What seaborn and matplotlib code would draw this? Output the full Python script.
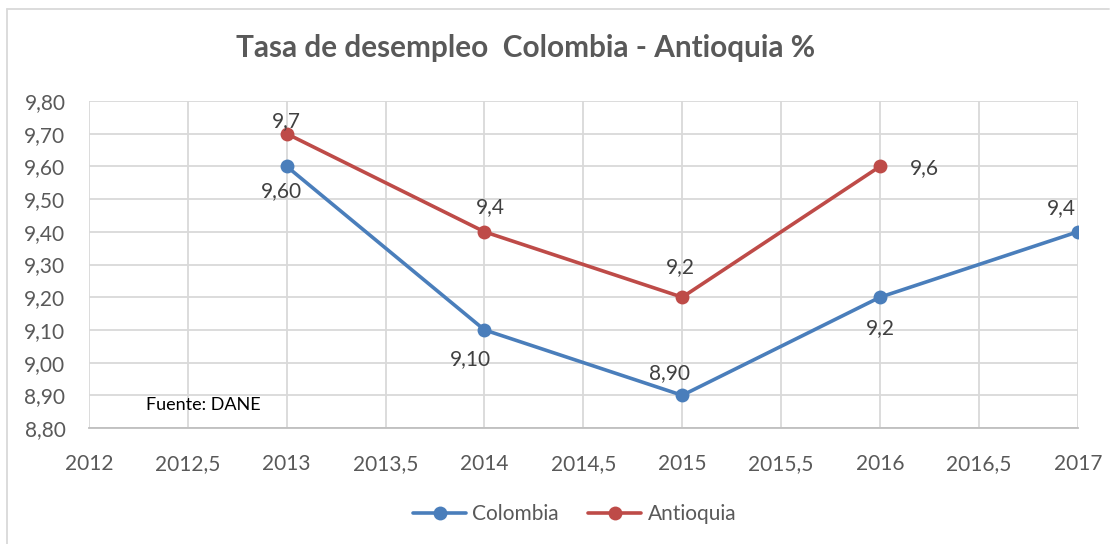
import numpy as np
import pandas as pd
import matplotlib
matplotlib.use("Agg")
import matplotlib.pyplot as plt
import seaborn as sns
from matplotlib.lines import Line2D

years_col = [2013, 2014, 2015, 2016, 2017]
colombia = [9.60, 9.10, 8.90, 9.20, 9.40]
colombia_lbl = ["9,60", "9,10", "8,90", "9,2", "9,4"]

years_ant = [2013, 2014, 2015, 2016]
antioquia = [9.7, 9.4, 9.2, 9.6]
antioquia_lbl = ["9,7", "9,4", "9,2", "9,6"]

x_ticks = [2012, 2012.5, 2013, 2013.5, 2014, 2014.5, 2015, 2015.5, 2016, 2016.5, 2017]
y_ticks = [8.8, 8.9, 9.0, 9.1, 9.2, 9.3, 9.4, 9.5, 9.6, 9.7, 9.8]

df = pd.concat([
    pd.DataFrame({"anio": years_col, "tasa": colombia, "serie": "Colombia"}),
    pd.DataFrame({"anio": years_ant, "tasa": antioquia, "serie": "Antioquia"}),
])

sns.set_style("white")
plt.rcParams["font.family"] = ["Lato", "DejaVu Sans"]

colors = {"Colombia": "#4a7ebb", "Antioquia": "#be4b48"}

fig = plt.figure(figsize=(11.18, 5.44), dpi=100)
ax = fig.add_axes([0.0796, 0.2132, 0.8844, 0.6011])

sns.lineplot(data=df, x="anio", y="tasa", hue="serie", palette=colors,
             marker="o", markersize=10, markeredgewidth=0, linewidth=2.6,
             ax=ax, legend=False)

ax.set_xlim(2012, 2017)
ax.set_ylim(8.8, 9.8)
ax.set_xticks(x_ticks)
ax.set_yticks(y_ticks)
ax.set_xticklabels([("%g" % v).replace(".", ",") for v in x_ticks])
ax.set_yticklabels([("%.2f" % v).replace(".", ",") for v in y_ticks])
ax.tick_params(axis="both", labelsize=15, colors="#595959", length=0)
ax.tick_params(axis="x", pad=19)
ax.tick_params(axis="y", pad=17)
ax.set_xlabel("")
ax.set_ylabel("")
ax.grid(True, color="#d9d9d9", linewidth=1.3)
for s in ["top", "right", "left"]:
    ax.spines[s].set_visible(False)
ax.spines["bottom"].set_color("#bfbfbf")
ax.spines["bottom"].set_linewidth(1.3)

# data labels (offsets in points)
off_col = [(-4, -18), (-10, -21), (-9, 16), (0, -22), (-12, 17)]
off_ant = [(0, 9), (4, 18), (-1, 22), (32, -1)]
for x, y, t, o in zip(years_col, colombia, colombia_lbl, off_col):
    ax.annotate(t, (x, y), xytext=o, textcoords="offset points",
                ha="center", va="center", fontsize=15, color="#404040")
for x, y, t, o in zip(years_ant, antioquia, antioquia_lbl, off_ant):
    ax.annotate(t, (x, y), xytext=o, textcoords="offset points",
                ha="center", va="center", fontsize=15, color="#404040")

ax.text(0.058, 0.055, "Fuente: DANE", transform=ax.transAxes,
        fontsize=13, color="#000000")

fig.text(0.47, 0.912, "Tasa de desempleo  Colombia - Antioquia %",
         ha="center", va="center", fontsize=21.4, fontweight="bold", color="#595959")

handles = [Line2D([], [], color=colors[k], marker="o", markersize=10,
                  markeredgewidth=0, linewidth=2.6) for k in ["Colombia", "Antioquia"]]
fig.legend(handles, ["Colombia", "Antioquia"], loc="center",
           bbox_to_anchor=(0.514, 0.055), ncol=2, frameon=False,
           fontsize=15, labelcolor="#595959", handlelength=2.55,
           columnspacing=1.4, handletextpad=0.3)

# outer chart border (left and top visible)
fig.add_artist(Line2D([0.0063, 0.0063], [0, 0.9835], color="#d9d9d9",
                      linewidth=1.3, transform=fig.transFigure))
fig.add_artist(Line2D([0.0063, 0.992], [0.9835, 0.9835], color="#d9d9d9",
                      linewidth=1.3, transform=fig.transFigure))

fig.savefig("out.png", dpi=100)
